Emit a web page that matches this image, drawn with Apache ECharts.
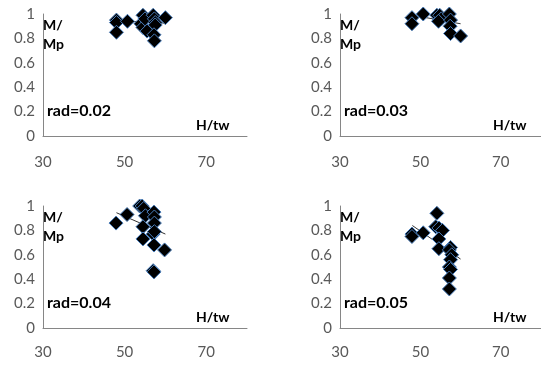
<!DOCTYPE html>
<html><head><meta charset="utf-8">
<script src="https://cdn.jsdelivr.net/npm/echarts@6/dist/echarts.min.js"></script>
<style>html,body{margin:0;padding:0;background:#fff}#c{width:541px;height:365px}</style>
</head><body><div id="c"></div>
<script>
// Data (H/tw, M/Mp)
const rad002 = [[48,0.95],[48,0.93],[48,0.85],[50.7,0.94],[54.5,0.99],[54,0.92],[54.5,0.89],[55.5,0.86],[55,0.96],[57,0.99],[57.3,0.96],[57.5,0.93],[57.5,0.91],[57.2,0.83],[57.3,0.78],[60,0.97]];
const rad003 = [[47.9,0.97],[47.9,0.92],[50.7,1.0],[54.1,0.99],[54.7,0.95],[54.8,0.99],[55.2,0.96],[54.5,0.94],[57.2,1.0],[57.5,0.95],[57.4,0.90],[57.5,0.84],[60,0.82]];
const rad004 = [[47.9,0.86],[50.6,0.93],[53.7,1.0],[54.3,1.0],[54.7,0.98],[55.1,0.92],[54.5,0.83],[54.5,0.73],[57.2,0.95],[57.3,0.91],[57.3,0.86],[57,0.77],[57.3,0.79],[57.2,0.68],[59.8,0.64],[57,0.47],[57.2,0.46]];
const rad005 = [[47.9,0.77],[47.9,0.75],[50.7,0.78],[54.1,0.94],[53.8,0.83],[54.6,0.82],[55.5,0.80],[54.6,0.73],[54.6,0.65],[57.5,0.66],[57.2,0.64],[57.8,0.60],[57.5,0.56],[57.2,0.50],[57.5,0.48],[57.2,0.41],[57.2,0.32]];
const trend002 = [[48,0.945],[60,0.925]];
const trend003 = [[48,0.99],[60,0.92]];
const trend004 = [[48,0.945],[60,0.77]];
const trend005 = [[48,0.84],[60,0.565]];
const panelLabels = ['rad=0.02','rad=0.03','rad=0.04','rad=0.05'];
const xTicks = {min:30, max:80, interval:20};
const yTicks = {min:0, max:1, interval:0.2};

const datasets = [rad002, rad003, rad004, rad005];
const trends = [trend002, trend003, trend004, trend005];
const FONT = 'Lato';
const grids = [
  {left:43, top:14, width:204, height:122},
  {left:340, top:14, width:203, height:122},
  {left:43, top:206, width:204, height:122},
  {left:340, top:206, width:203, height:122}
];
const xAxes = [], yAxes = [], series = [], graphics = [];
grids.forEach((g, i) => {
  xAxes.push({gridIndex:i, type:'value', min:xTicks.min, max:xTicks.max, interval:xTicks.interval,
    axisLine:{show:true, lineStyle:{color:'#868686', width:1}}, axisTick:{show:false}, splitLine:{show:false},
    axisLabel:{showMaxLabel:false, margin:i<2?19:17, color:'#595959', fontSize:15, fontFamily:FONT}});
  yAxes.push({gridIndex:i, type:'value', min:yTicks.min, max:yTicks.max, interval:yTicks.interval,
    axisLine:{show:true, lineStyle:{color:'#868686', width:1}}, axisTick:{show:false}, splitLine:{show:false},
    axisLabel:{margin:8, color:'#595959', fontSize:15, fontFamily:FONT}});
  series.push({type:'line', xAxisIndex:i, yAxisIndex:i, data:trends[i], symbol:'none', silent:true,
    lineStyle:{color:'#333', width:1}, z:1});
  series.push({type:'scatter', xAxisIndex:i, yAxisIndex:i, data:datasets[i], symbol:'diamond', symbolSize:14,
    itemStyle:{color:'#000', opacity:1, borderColor:'#4a7ebb', borderWidth:1}, z:2});
  const lx = g.left, ty = g.top;
  const txt = (x, y, s, size) => graphics.push({type:'text', left:x, top:y, z:10,
    style:{text:s, font:'bold '+size+'px '+FONT, fill:'#000'}});
  txt(lx, ty + 4, 'M/', 14);
  txt(lx, ty + 23, 'Mp', 14);
  txt(lx + 4, ty + 89, panelLabels[i], 16);
  txt(lx + 153, ty + 104, 'H/tw', 14);
});
const chart = echarts.init(document.getElementById('c'), null, {renderer:'canvas'});
chart.setOption({animation:false, grid:grids, xAxis:xAxes, yAxis:yAxes, series:series, graphic:graphics});
</script></body></html>
